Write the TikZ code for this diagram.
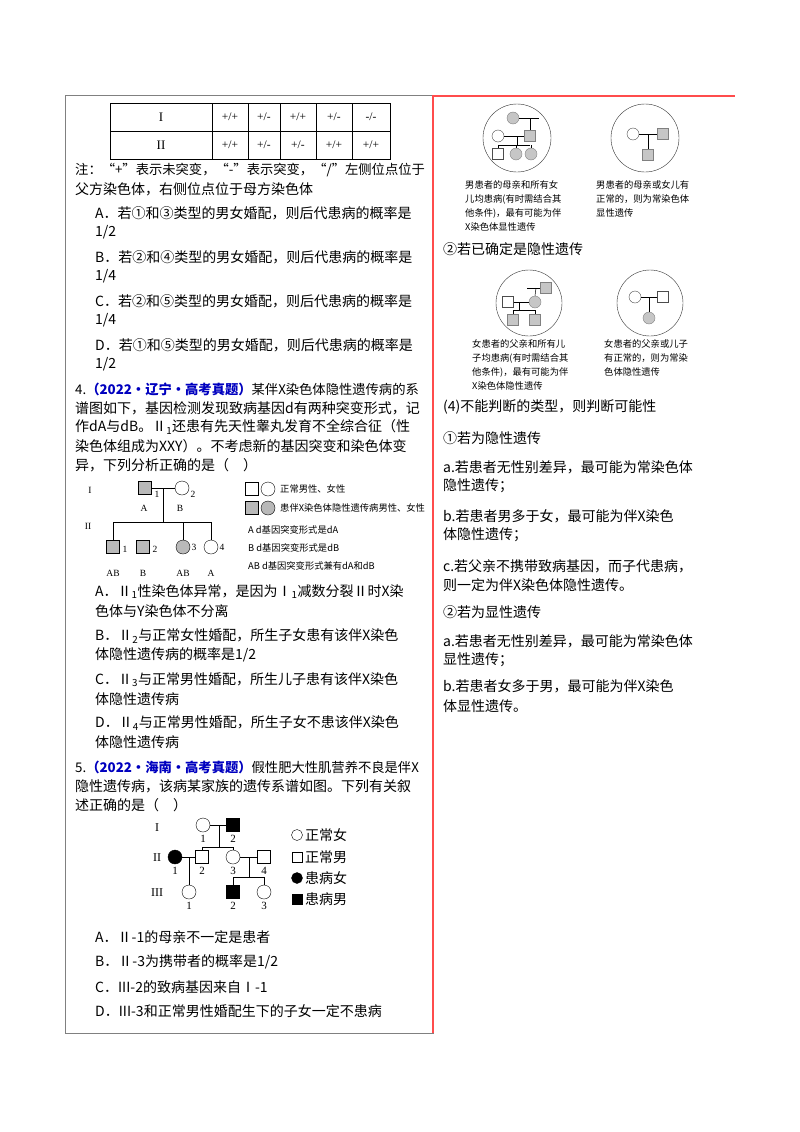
\documentclass[tikz,border=0pt]{standalone}
\usepackage{fontspec}
\setmainfont{Noto Sans CJK SC}
\newfontfamily\serf{Liberation Serif}
\begin{document}
\begin{tikzpicture}[x=1pt,y=-1pt,
 txt/.style={anchor=west,inner sep=0pt,font=\fontsize{14}{16}\selectfont},
 txs/.style={anchor=west,inner sep=0pt,font=\fontsize{13.3}{16}\selectfont},
 captxt/.style={anchor=west,inner sep=0pt,font=\fontsize{9.3}{11}\selectfont},
 sm/.style={inner sep=0pt,font=\fontsize{9.5}{11}\selectfont\serf},
 ml/.style={draw=black,minimum size=13pt,inner sep=0pt},
 fl/.style={draw=black,circle,minimum size=14pt,inner sep=0pt},
 gm/.style={draw=black,fill=gray!55,minimum size=13pt,inner sep=0pt},
 gf/.style={draw=black,fill=gray!55,circle,minimum size=14pt,inner sep=0pt},
 bm/.style={draw=black,fill=black,minimum size=13pt,inner sep=0pt},
 bf/.style={draw=black,fill=black,circle,minimum size=14pt,inner sep=0pt},
 pm/.style={draw=gray,fill=gray!45,minimum size=11pt,inner sep=0pt},
 pw/.style={draw=black!70,minimum size=11pt,inner sep=0pt},
 pc/.style={draw=gray,fill=gray!45,circle,minimum size=12pt,inner sep=0pt},
 pcw/.style={draw=black!70,circle,minimum size=12pt,inner sep=0pt},
 ln/.style={draw=black,line width=0.7pt}]
\useasboundingbox (0,0) rectangle (800,1132);
\fill[white] (0,0) rectangle (800,1132);
\newcommand\tl[3]{\node[txt] at (#1,#2) {#3};}
% frames
\draw[gray,line width=0.8pt] (65,95) rectangle (433,1033);
\draw[red!70,line width=1.3pt] (433,95) -- (433,1033);
\draw[red!70,line width=1.3pt] (433,96) -- (735,96);
% table
\draw[line width=0.8pt] (110,103) rectangle (390,159);
\draw[line width=0.8pt] (110,131) -- (390,131);
\foreach \x in {212,248,280,316,352} \draw[line width=0.8pt] (\x,103) -- (\x,159);
\node[sm,font=\fontsize{13}{14}\selectfont\serf] (r1) at (161,117) {I};
\node[sm,font=\fontsize{13}{14}\selectfont\serf] (r2) at (161,145) {II};
\foreach \x/\a/\b in {230/+\slash+/+\slash+,264/+\slash-/+\slash-,298/+\slash+/+\slash-,334/+\slash-/+\slash+,371/-\slash-/+\slash+}{
 \node[sm,font=\fontsize{11.5}{13}\selectfont\serf] at (\x,117) {\a}; \node[sm,font=\fontsize{11.5}{13}\selectfont\serf] at (\x,145) {\b};}
\node[txs] at (75,170) {注：“+”表示未突变，“-”表示突变，“/”左侧位点位于};
\tl{75}{189}{父方染色体，右侧位点位于母方染色体}
\tl{95}{213}{A．若①和③类型的男女婚配，则后代患病的概率是}
\tl{95}{232}{1/2}
\tl{95}{257}{B．若②和④类型的男女婚配，则后代患病的概率是}
\tl{95}{276}{1/4}
\tl{95}{301}{C．若②和⑤类型的男女婚配，则后代患病的概率是}
\tl{95}{320}{1/4}
\tl{95}{345}{D．若①和⑤类型的男女婚配，则后代患病的概率是}
\tl{95}{364}{1/2}
\node[txs] at (75,389) {4.\textcolor{blue!75!black}{\bfseries （2022·辽宁·高考真题）}某伴X染色体隐性遗传病的系};
\tl{75}{408}{谱图如下，基因检测发现致病基因d有两种突变形式，记}
\tl{75}{427}{作dA与dB。Ⅱ\textsubscript{1}还患有先天性睾丸发育不全综合征（性}
\tl{75}{446}{染色体组成为XXY）。不考虑新的基因突变和染色体变}
\tl{75}{465}{异，下列分析正确的是（　）}
% pedigree 4
\node[sm] at (90,490) {I};
\node[sm] at (88,526) {II};
\node[gm] (a1) at (145,488) {};
\node[fl] (a2) at (182,488) {};
\draw[ln] (a1) -- (a2);
\coordinate (am) at (163,488);
\coordinate (as) at (163,522);
\draw[ln] (am) -- (as);
\draw[ln] (113,522) -- (211,522);
\node[gm] (b1) at (113,547) {};
\node[gm] (b2) at (143,547) {};
\node[gf] (b3) at (183,547) {};
\node[fl] (b4) at (211,547) {};
\draw[ln] (113,522) -- (b1.north);
\draw[ln] (183,522) -- (b3.north);
\draw[ln] (211,522) -- (b4.north);
\node[sm] at (157,494) {1}; \node[sm] at (193,494) {2};
\node[sm] at (144,508) {A}; \node[sm] at (180,508) {B};
\node[sm] at (125,549) {1}; \node[sm] at (155,549) {2}; \node[sm] at (194,547) {3}; \node[sm] at (222,547) {4};
\node[sm] at (113,573) {AB}; \node[sm] at (143,573) {B}; \node[sm] at (183,573) {AB}; \node[sm] at (211,573) {A};
\node[ml] (l1) at (252,489) {}; \node[fl] (l2) at (268,489) {};
\node[gm] (l3) at (252,508) {}; \node[gf] (l4) at (268,508) {};
\node[captxt] at (280,489) {正常男性、女性};
\node[captxt] at (280,508) {患伴X染色体隐性遗传病男性、女性};
\node[captxt] at (248,530) {A d基因突变形式是dA};
\node[captxt] at (248,548) {B d基因突变形式是dB};
\node[captxt] at (248,566) {AB d基因突变形式兼有dA和dB};
\tl{95}{592}{A．Ⅱ\textsubscript{1}性染色体异常，是因为Ⅰ\textsubscript{1}减数分裂Ⅱ时X染}
\tl{95}{611}{色体与Y染色体不分离}
\tl{95}{636}{B．Ⅱ\textsubscript{2}与正常女性婚配，所生子女患有该伴X染色}
\tl{95}{655}{体隐性遗传病的概率是1/2}
\tl{95}{680}{C．Ⅱ\textsubscript{3}与正常男性婚配，所生儿子患有该伴X染色}
\tl{95}{699}{体隐性遗传病}
\tl{95}{723}{D．Ⅱ\textsubscript{4}与正常男性婚配，所生子女不患该伴X染色}
\tl{95}{742}{体隐性遗传病}
\node[txs] at (75,767) {5.\textcolor{blue!75!black}{\bfseries （2022·海南·高考真题）}假性肥大性肌营养不良是伴X};
\tl{75}{786}{隐性遗传病，该病某家族的遗传系谱如图。下列有关叙}
\tl{75}{805}{述正确的是（　）}
% pedigree 5
\node[sm,font=\fontsize{12}{13}\selectfont\serf] at (157,828) {I};
\node[sm,font=\fontsize{12}{13}\selectfont\serf] at (157,858) {II};
\node[sm,font=\fontsize{12}{13}\selectfont\serf] at (157,893) {III};
\node[fl] (c1) at (203,825) {};
\node[bm] (c2) at (233,825) {};
\draw[ln] (c1) -- (c2);
\draw[ln] (219,825) -- (219,847);
\draw[ln] (202,847) -- (233,847);
\node[bf] (d1) at (175,857) {};
\node[ml] (d2) at (202,857) {};
\node[fl] (d3) at (233,857) {};
\node[ml] (d4) at (264,857) {};
\draw[ln] (202,847) -- (d2.north);
\draw[ln] (233,847) -- (d3.north);
\draw[ln] (d1) -- (d2);
\draw[ln] (d3) -- (d4);
\node[fl] (e1) at (189,892) {};
\node[bm] (e2) at (233,892) {};
\node[fl] (e3) at (264,892) {};
\draw[ln] (189,857) -- (e1.north);
\draw[ln] (249,857) -- (249,877);
\draw[ln] (233,877) -- (264,877);
\draw[ln] (233,877) -- (e2.north);
\draw[ln] (264,877) -- (e3.north);
\foreach \x/\y/\t in {203/839/1,233/839/2,175/871/1,202/871/2,233/871/3,264/871/4,189/906/1,233/906/2,264/906/3}
 \node[sm,font=\fontsize{11}{12}\selectfont\serf] at (\x,\y) {\t};
\node[fl,minimum size=11pt] (g1) at (297,835) {};
\node[ml,minimum size=10pt] (g2) at (297,857) {};
\node[bf,minimum size=11pt] (g3) at (297,878) {};
\node[bm,minimum size=10pt] (g4) at (297,899) {};
\node[txt] at (305,835) {正常女};
\node[txt] at (305,857) {正常男};
\node[txt] at (305,878) {患病女};
\node[txt] at (305,899) {患病男};
\tl{95}{937}{A．Ⅱ-1的母亲不一定是患者}
\tl{95}{962}{B．Ⅱ-3为携带者的概率是1/2}
\tl{95}{987}{C．III-2的致病基因来自Ⅰ-1}
\tl{95}{1011}{D．III-3和正常男性婚配生下的子女一定不患病}
% right column circles row 1
\node[draw=black!80,circle,minimum size=68pt,inner sep=0pt] (k1) at (517,138) {};
\node[pc] (p1) at (513,118) {};
\draw[ln,line width=0.5pt] (p1) -- (539,118);
\draw[ln,line width=0.5pt] (530,118) -- (530,131);
\node[pcw] (p2) at (498,136) {};
\node[pm] (p3) at (530,136) {};
\draw[ln,line width=0.5pt] (p2) -- (p3);
\draw[ln,line width=0.5pt] (517,136) -- (517,145);
\draw[ln,line width=0.5pt] (498,145) -- (530,145);
\node[pw] (p4) at (498,154) {};
\node[pc] (p5) at (516,154) {};
\node[pc] (p6) at (531,154) {};
\draw[ln,line width=0.5pt] (498,145) -- (p4.north);
\draw[ln,line width=0.5pt] (516,145) -- (p5.north);
\draw[ln,line width=0.5pt] (531,145) -- (p6.north);
\node[captxt] at (465,185) {男患者的母亲和所有女};
\node[captxt] at (465,199) {儿均患病(有时需结合其};
\node[captxt] at (465,213) {他条件)，最有可能为伴};
\node[captxt] at (465,227) {X染色体显性遗传};
\node[draw=black!80,circle,minimum size=68pt,inner sep=0pt] (k2) at (645,138) {};
\node[pcw] (q1) at (633,134) {};
\node[pm] (q2) at (663,134) {};
\draw[ln,line width=0.5pt] (q1) -- (q2);
\node[pm] (q3) at (648,155) {};
\draw[ln,line width=0.5pt] (648,134) -- (q3.north);
\node[captxt] at (596,185) {男患者的母亲或女儿有};
\node[captxt] at (596,199) {正常的，则为常染色体};
\node[captxt] at (596,213) {显性遗传};
\tl{443}{249}{②若已确定是隐性遗传}
% row 2
\node[draw=black!80,circle,minimum size=66pt,inner sep=0pt] (k3) at (529,303) {};
\node[pw] (s1) at (508,302) {};
\node[pc] (s2) at (535,302) {};
\draw[ln,line width=0.5pt] (s1) -- (s2);
\node[pm] (s3) at (546,288) {};
\draw[ln,line width=0.5pt] (527,288) -- (s3);
\draw[ln,line width=0.5pt] (536,288) -- (s2.north);
\draw[ln,line width=0.5pt] (519,302) -- (519,310);
\draw[ln,line width=0.5pt] (513,310) -- (535,310);
\node[pm] (s4) at (513,320) {};
\node[pm] (s5) at (535,320) {};
\draw[ln,line width=0.5pt] (513,310) -- (s4.north);
\draw[ln,line width=0.5pt] (535,310) -- (s5.north);
\node[captxt] at (472,344) {女患者的父亲和所有儿};
\node[captxt] at (472,358) {子均患病(有时需结合其};
\node[captxt] at (472,372) {他条件)，最有可能为伴};
\node[captxt] at (472,386) {X染色体隐性遗传};
\node[draw=black!80,circle,minimum size=66pt,inner sep=0pt] (k4) at (650,303) {};
\node[pcw] (u1) at (635,297) {};
\node[pw] (u2) at (663,297) {};
\draw[ln,line width=0.5pt] (u1) -- (u2);
\node[pc] (u3) at (649,318) {};
\draw[ln,line width=0.5pt] (649,297) -- (u3.north);
\node[captxt] at (604,344) {女患者的父亲或儿子};
\node[captxt] at (604,358) {有正常的，则为常染};
\node[captxt] at (604,372) {色体隐性遗传};
\tl{443}{407}{(4)不能判断的类型，则判断可能性}
\tl{443}{438}{①若为隐性遗传}
\tl{443}{467}{a.若患者无性别差异，最可能为常染色体}
\tl{443}{486}{隐性遗传；}
\tl{443}{516}{b.若患者男多于女，最可能为伴X染色}
\tl{443}{535}{体隐性遗传；}
\tl{443}{566}{c.若父亲不携带致病基因，而子代患病，}
\tl{443}{585}{则一定为伴X染色体隐性遗传。}
\tl{443}{612}{②若为显性遗传}
\tl{443}{641}{a.若患者无性别差异，最可能为常染色体}
\tl{443}{660}{显性遗传；}
\tl{443}{686}{b.若患者女多于男，最可能为伴X染色}
\tl{443}{706}{体显性遗传。}
\end{tikzpicture}
\end{document}
